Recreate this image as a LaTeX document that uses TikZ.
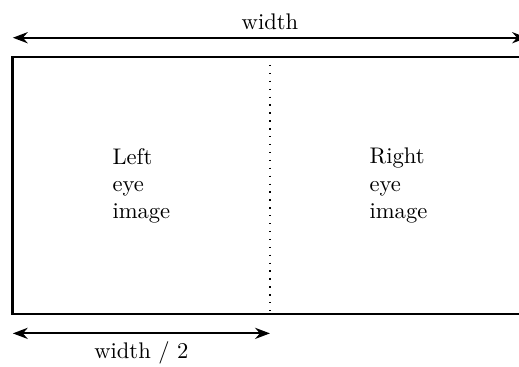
\documentclass[tikz,border=0pt]{standalone}
\usetikzlibrary{arrows.meta}

\begin{document}
\begin{tikzpicture}[every node/.style={font=\normalsize}]
    \useasboundingbox (-0.2,-0.81) rectangle (7.875,4.887);
    % side-by-side frame
    \draw[line width=1.2pt] (0,0) rectangle (8,4);
    \coordinate (midtop) at (4,4);
    \coordinate (midbot) at (4,0);
    \draw[line width=0.6pt, dash pattern=on 0.6pt off 2.9pt] (midtop) -- (midbot);
    \node[align=left] (left) at (2,2) {Left\\eye\\image};
    \node[align=left] (right) at (6,2) {Right\\eye\\image};
    % dimensions
    \coordinate (wl) at (0,4.3);
    \coordinate (wr) at (8,4.3);
    \coordinate (hl) at (0,-0.3);
    \coordinate (hr) at (4,-0.3);
    \draw[{Stealth}-{Stealth}, thick] (wl) -- node[above] (wlab) {width} (wr);
    \draw[{Stealth}-{Stealth}, thick] (hl) -- node[below] (hlab) {width / 2} (hr);
\end{tikzpicture}
\end{document}
